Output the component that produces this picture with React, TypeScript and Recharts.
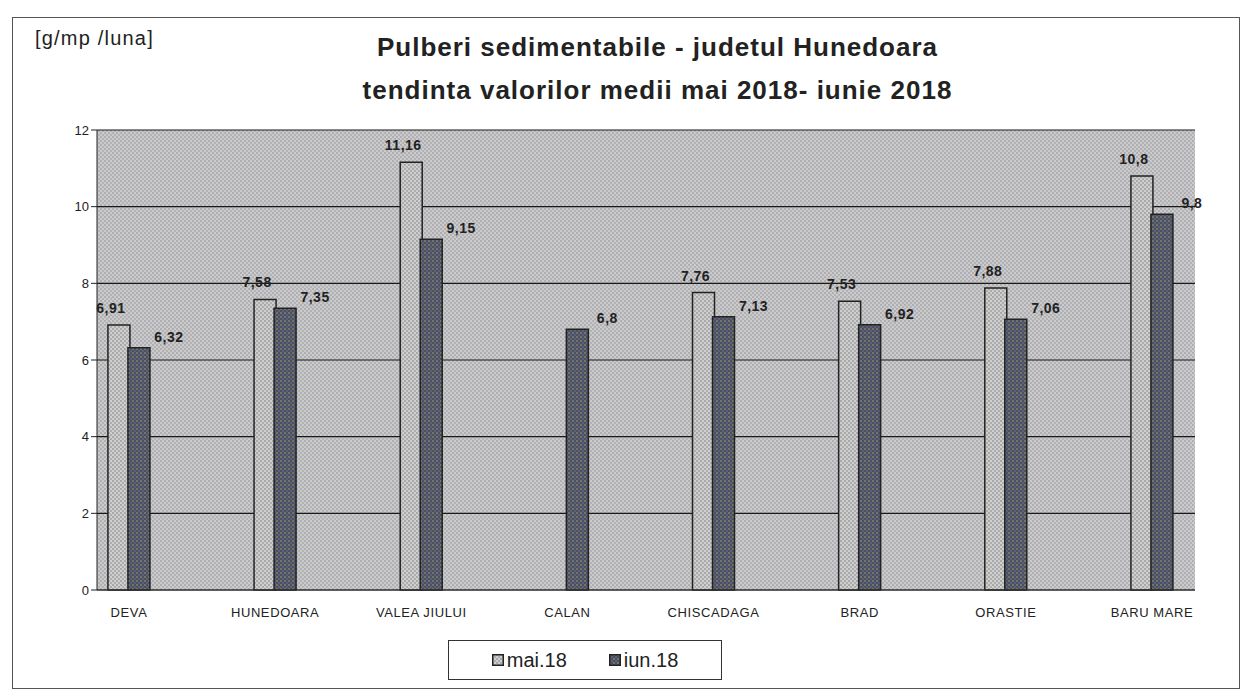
import React from 'react';
import { BarChart, Bar, XAxis, YAxis, CartesianGrid, LabelList } from 'recharts';

const categories = ['DEVA', 'HUNEDOARA', 'VALEA JIULUI', 'CALAN', 'CHISCADAGA', 'BRAD', 'ORASTIE', 'BARU MARE'];
const mai18: (number | null)[] = [6.91, 7.58, 11.16, null, 7.76, 7.53, 7.88, 10.8];
const iun18: number[] = [6.32, 7.35, 9.15, 6.8, 7.13, 6.92, 7.06, 9.8];
const yTicks = [0, 2, 4, 6, 8, 10, 12];
const seriesNames = ['mai.18', 'iun.18'];

const data = categories.map((c, i) => ({ name: c, mai: mai18[i], iun: iun18[i] }));

const FONT = '"Liberation Sans", Arial, sans-serif';
const fmt = (v: any) => String(v).replace('.', ',');

const MaiLabel = (props: any) => {
  const { x, y, width, value } = props;
  if (value == null) return null;
  return (
    <text x={x + width / 2 - 8} y={y - 12} textAnchor="middle" fontFamily={FONT} fontSize={14} fontWeight="bold" fill="#222" letterSpacing={0.5}>
      {fmt(value)}
    </text>
  );
};

const IunLabel = (props: any) => {
  const { x, y, width, value } = props;
  if (value == null) return null;
  return (
    <text x={x + width / 2 + 30} y={y - 6} textAnchor="middle" fontFamily={FONT} fontSize={14} fontWeight="bold" fill="#222" letterSpacing={0.5}>
      {fmt(value)}
    </text>
  );
};

export default function App() {
  return (
    <div style={{ position: 'absolute', left: 0, top: 0, width: 1241, height: 695, background: '#fff', fontFamily: FONT }}>
      <div style={{ position: 'absolute', left: 12, top: 17, width: 1226, height: 670, border: '1.5px solid #555' }} />
      <div style={{ position: 'absolute', left: 35, top: 27, fontSize: 20, letterSpacing: 1.2, color: '#222' }}>[g/mp /luna]</div>
      <div style={{ position: 'absolute', left: 250, top: 26, width: 815, textAlign: 'center', fontSize: 26, letterSpacing: 1, fontWeight: 'bold', color: '#222', lineHeight: '43px' }}>
        Pulberi sedimentabile - judetul Hunedoara
        <br />
        tendinta valorilor medii mai 2018- iunie 2018
      </div>
      <BarChart
        width={1241}
        height={695}
        data={data}
        margin={{ top: 130, right: 46, bottom: 75, left: 57 }}
        barSize={22}
        barGap={-2}
        style={{ position: 'absolute', left: 0, top: 0 }}
      >
        <defs>
          <pattern id="bgPat" width="4" height="4" patternUnits="userSpaceOnUse">
            <rect width="4" height="4" fill="#cbcbcf" />
            <rect x="0" y="0" width="2" height="2" fill="#aeaeb3" />
            <rect x="2" y="2" width="2" height="2" fill="#b2b2ae" />
          </pattern>
          <pattern id="maiPat" width="4" height="4" patternUnits="userSpaceOnUse">
            <rect width="4" height="4" fill="#cfcfcf" />
            <rect x="0" y="0" width="2" height="2" fill="#a9a9ad" />
            <rect x="2" y="2" width="2" height="2" fill="#adada9" />
          </pattern>
          <pattern id="iunPat" width="4" height="4" patternUnits="userSpaceOnUse">
            <rect width="4" height="4" fill="#4c4f62" />
            <rect x="0" y="0" width="2" height="2" fill="#71766a" />
            <rect x="2" y="2" width="2" height="2" fill="#5c6078" />
          </pattern>
        </defs>
        <CartesianGrid vertical={false} stroke="#1a1a1a" strokeWidth={1.2} fill="url(#bgPat)" fillOpacity={1} />
        <XAxis
          dataKey="name"
          scale="point"
          padding={{ left: 32, right: 43 }}
          tickLine={false}
          axisLine={{ stroke: '#333' }}
          tick={{ fontFamily: FONT, fontSize: 13, fill: '#222', letterSpacing: 0.6 }}
          tickMargin={12}
          interval={0}
        />
        <YAxis
          width={40}
          domain={[0, 12]}
          ticks={yTicks}
          axisLine={{ stroke: '#222' }}
          tickLine={{ stroke: '#222' }}
          tickSize={6}
          tick={{ fontFamily: FONT, fontSize: 13, fill: '#222' }}
        />
        <Bar dataKey="mai" name={seriesNames[0]} fill="url(#maiPat)" stroke="#222" strokeWidth={1.5} isAnimationActive={false}>
          <LabelList dataKey="mai" content={MaiLabel} />
        </Bar>
        <Bar dataKey="iun" name={seriesNames[1]} fill="url(#iunPat)" stroke="#222" strokeWidth={1.5} isAnimationActive={false}>
          <LabelList dataKey="iun" content={IunLabel} />
        </Bar>
      </BarChart>
      <div style={{ position: 'absolute', left: 448, top: 640, width: 272, height: 38, border: '1.5px solid #333', background: '#fff', display: 'flex', alignItems: 'center', justifyContent: 'center', gap: 42, fontSize: 20, color: '#222' }}>
        <span style={{ display: 'flex', alignItems: 'center' }}>
          <svg width={12} height={12} style={{ marginRight: 3 }}><rect x={0.75} y={0.75} width={10.5} height={10.5} fill="url(#maiPat)" stroke="#222" strokeWidth={1.5} /></svg>
          {seriesNames[0]}
        </span>
        <span style={{ display: 'flex', alignItems: 'center' }}>
          <svg width={12} height={12} style={{ marginRight: 3 }}><rect x={0.75} y={0.75} width={10.5} height={10.5} fill="url(#iunPat)" stroke="#222" strokeWidth={1.5} /></svg>
          {seriesNames[1]}
        </span>
      </div>
    </div>
  );
}
